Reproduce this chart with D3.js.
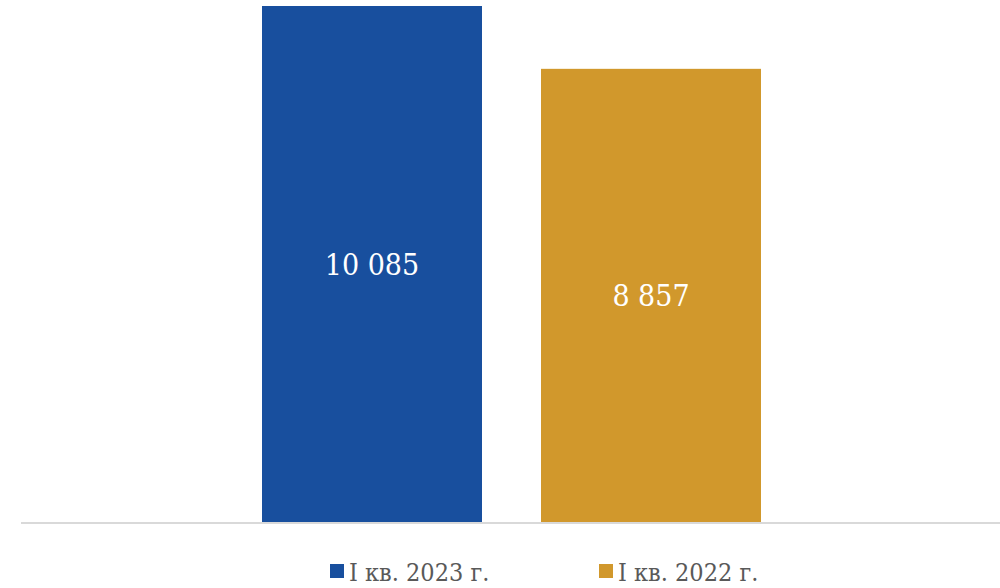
<!DOCTYPE html>
<html>
<head>
<meta charset="utf-8">
<script src="https://cdn.jsdelivr.net/npm/d3@7"></script>
<style>
  html, body { margin: 0; padding: 0; background: #fff; }
  svg { display: block; }
</style>
</head>
<body>
<div id="chart"></div>
<script>
"use strict";

// data
var categories = ["I кв. 2023 г.", "I кв. 2022 г."];
var values = [10085, 8857];
var valueLabels = ["10 085", "8 857"];
var colors = ["#184F9E", "#D1982C"];

var width = 1000, height = 588;
var serif = "'DejaVu Serif Condensed', 'DejaVu Serif', serif";

var svg = d3.select("#chart").append("svg")
  .attr("width", width)
  .attr("height", height);

var x = d3.scaleBand()
  .domain(categories)
  .range([262, 761])
  .paddingInner(0.2115)
  .paddingOuter(0);

var y = d3.scaleLinear()
  .domain([0, d3.max(values)])
  .range([522, 6]);

var color = d3.scaleOrdinal().domain(categories).range(colors);

var rows = categories.map(function(c, i) {
  return {cat: c, value: values[i], label: valueLabels[i]};
});

// bars
svg.append("g")
  .selectAll("rect")
  .data(rows)
  .enter().append("rect")
    .attr("x", function(d) { return x(d.cat); })
    .attr("y", function(d) { return y(d.value); })
    .attr("width", x.bandwidth())
    .attr("height", function(d) { return y(0) - y(d.value); })
    .attr("fill", function(d) { return color(d.cat); });

// baseline
svg.append("line")
  .attr("x1", 21).attr("x2", width)
  .attr("y1", y(0) + 1).attr("y2", y(0) + 1)
  .attr("stroke", "#d9d9d9")
  .attr("stroke-width", 2);

// value labels in the middle of each bar
svg.append("g")
  .selectAll("text")
  .data(rows)
  .enter().append("text")
    .attr("x", function(d) { return x(d.cat) + x.bandwidth() / 2; })
    .attr("y", function(d) { return (y(d.value) + y(0)) / 2; })
    .attr("text-anchor", "middle")
    .attr("dominant-baseline", "central")
    .attr("fill", "#fff")
    .style("font-family", serif)
    .style("font-size", "30px")
    .text(function(d) { return d.label; });

// legend
var legendX = d3.scaleOrdinal().domain(categories).range([330, 599]);
var legend = svg.append("g")
  .selectAll("g")
  .data(categories)
  .enter().append("g")
    .attr("transform", function(d) { return "translate(" + legendX(d) + ",564)"; });

legend.append("rect")
  .attr("width", 14)
  .attr("height", 14)
  .attr("fill", function(d) { return color(d); });

legend.append("text")
  .attr("x", 19)
  .attr("y", 17)
  .attr("fill", "#595959")
  .style("font-family", serif)
  .style("font-size", "25px")
  .text(function(d) { return d; });
</script>
</body>
</html>
